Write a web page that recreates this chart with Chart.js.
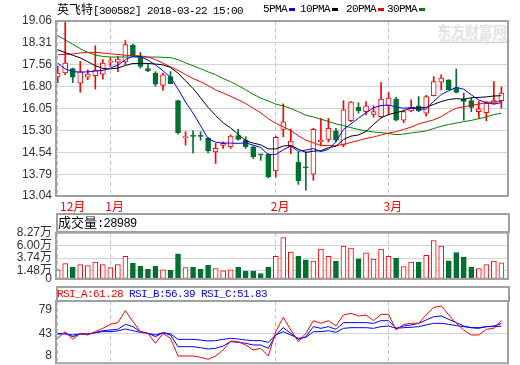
<!DOCTYPE html>
<html>
<head>
<meta charset="utf-8">
<script src="https://cdn.jsdelivr.net/npm/chart.js@4.4.1/dist/chart.umd.min.js"></script>
<style>
  body { margin: 0; background: #fff; }
  #wrap { position: relative; width: 520px; height: 365px; overflow: hidden; }
  canvas { position: absolute; left: 0; z-index: 1; }
  .t { position: absolute; white-space: nowrap; z-index: 2; line-height: 14px; color: #000; }
  .mono { font-family: "Liberation Mono", monospace; font-size: 11px; letter-spacing: -0.6px; }
  .cjk { font-family: "Noto Sans CJK SC", sans-serif; font-size: 12px; }
  .dash { display: inline-block; width: 6px; height: 3px; vertical-align: middle; margin-left: 2px; }
  .box { position: absolute; left: 56px; width: 450px; border: 2px solid #a0a0a0; z-index: 2; }
  .wm { position: absolute; z-index: 0; color: #e2e2e2; font-family: "Noto Sans CJK SC", sans-serif; white-space: nowrap; }
</style>
</head>
<body>
<div id="wrap">
  <div class="wm" style="left:437px;top:20px;font-size:14px;font-weight:bold;">东方财富网</div>
  <div class="wm" style="left:440px;top:36px;font-size:8px;font-family:'DejaVu Sans';font-weight:bold;">eastmoney.com</div>

  <div class="t" style="left:57px;top:2px;">
    <span class="cjk">英飞特</span><span class="mono">[300582] 2018-03-22 15:00</span>
  </div>
  <div class="t mono" style="left:263px;top:2px;">5PMA<span class="dash" style="background:#0000ff"></span></div>
  <div class="t mono" style="left:300px;top:2px;">10PMA<span class="dash" style="background:#000"></span></div>
  <div class="t mono" style="left:346px;top:2px;">20PMA<span class="dash" style="background:#ff0000"></span></div>
  <div class="t mono" style="left:387px;top:2px;">30PMA<span class="dash" style="background:#008000"></span></div>

  <canvas id="kline" width="520" height="214" style="top:0px"></canvas>

  <div class="box" style="top:213px;height:16px;"></div>
  <div class="t" style="left:58px;top:215px;"><span class="cjk" style="font-size:13px">成交量</span><span class="mono" style="font-size:12px">:28989</span></div>
  <canvas id="vol" width="520" height="71" style="top:220px"></canvas>

  <div class="box" style="top:286px;height:12px;"></div>
  <div class="t mono" style="left:57px;top:287px;"><span style="color:#ff0000">RSI_A:61.28</span> <span style="color:#0000ff">RSI_B:56.39</span> <span style="color:#0000ff">RSI_C:51.83</span></div>
  <canvas id="rsi" width="520" height="88" style="top:288px"></canvas>
</div>

<script>
// trading days shown (2017-12-21 .. 2018-03-22)
const dates = [
  "12-21", "12-22", "12-25", "12-26", "12-27", "12-28", "12-29",
  "01-02", "01-03", "01-04", "01-05", "01-08", "01-09", "01-10", "01-11", "01-12",
  "01-15", "01-16", "01-17", "01-18", "01-19", "01-22", "01-23", "01-24", "01-25",
  "01-26", "01-29", "01-30", "01-31",
  "02-01", "02-02", "02-05", "02-06", "02-07", "02-08", "02-09", "02-12", "02-13",
  "02-14", "02-22", "02-23", "02-26", "02-27", "02-28",
  "03-01", "03-02", "03-05", "03-06", "03-07", "03-08", "03-09", "03-12", "03-13",
  "03-14", "03-15", "03-16", "03-19", "03-20", "03-21", "03-22",
];

const open = [
  17.14, 17.27, 17.42, 16.92, 17.13, 17.18, 17.23, 17.64, 17.64, 17.65,
  18.22, 17.84, 17.42, 17.27, 16.84, 17.15, 16.32, 15.05, 15.11, 15.11,
  15.02, 14.56, 14.78, 14.73, 15.12, 14.96, 14.73, 14.48, 14.47, 13.90,
  15.33, 14.73, 14.20, 14.03, 13.79, 14.90, 14.99, 15.28, 14.79, 15.63,
  16.09, 15.94, 15.85, 15.77, 16.14, 16.37, 15.65, 15.97, 16.14, 15.89,
  16.49, 16.96, 17.04, 16.75, 16.37, 16.32, 15.94, 15.91, 16.23, 16.32,
];
const close = [
  17.27, 17.61, 17.13, 17.32, 17.23, 17.36, 17.61, 17.69, 17.75, 18.25,
  17.90, 17.50, 17.34, 16.89, 17.21, 16.90, 15.22, 15.07, 15.09, 15.09,
  14.59, 14.68, 14.85, 15.10, 14.99, 14.73, 14.39, 14.46, 13.70, 15.06,
  15.59, 14.93, 13.56, 14.01, 15.33, 14.96, 15.37, 14.96, 16.00, 16.27,
  15.97, 16.14, 15.94, 16.37, 16.41, 15.65, 15.94, 16.06, 15.97, 16.46,
  16.98, 17.10, 16.69, 16.60, 16.29, 16.09, 16.04, 16.23, 16.32, 16.58,
];
const high = [
  17.50, 19.01, 17.44, 17.67, 17.38, 18.21, 17.73, 17.79, 17.84, 18.39,
  18.27, 17.98, 17.56, 17.32, 17.27, 17.32, 16.34, 15.25, 15.28, 15.25,
  15.06, 14.85, 14.90, 15.14, 15.34, 15.08, 14.76, 14.48, 14.50, 15.10,
  16.21, 15.34, 14.56, 14.56, 15.37, 15.71, 15.71, 15.37, 16.32, 16.29,
  16.25, 16.29, 16.14, 16.94, 16.60, 16.43, 16.00, 16.35, 16.46, 16.50,
  17.15, 17.21, 17.04, 17.41, 16.58, 16.41, 16.29, 16.29, 16.98, 16.79,
];
const low = [
  16.94, 17.21, 16.94, 16.61, 17.04, 16.72, 17.06, 17.50, 17.32, 17.56,
  17.84, 17.44, 17.32, 16.81, 16.67, 16.90, 15.17, 14.79, 14.52, 14.96,
  14.52, 14.16, 14.68, 14.68, 14.96, 14.68, 14.33, 14.27, 13.66, 13.69,
  15.08, 14.50, 13.44, 13.24, 13.58, 14.79, 14.90, 14.90, 14.73, 15.60,
  15.89, 15.83, 15.75, 15.75, 15.83, 15.62, 15.56, 15.94, 15.94, 15.79,
  16.48, 16.69, 16.69, 16.58, 15.65, 15.94, 15.71, 15.63, 16.21, 16.06,
];

const ma5 = [
  17.61, 17.41, 17.32, 17.30, 17.31, 17.34, 17.36, 17.44, 17.54, 17.73,
  17.85, 17.83, 17.72, 17.55, 17.35, 17.12, 16.72, 16.27, 15.89, 15.46,
  15.01, 14.89, 14.86, 14.86, 14.85, 14.87, 14.79, 14.71, 14.46, 14.47,
  14.63, 14.76, 14.58, 14.62, 14.67, 14.57, 14.64, 14.91, 15.33, 15.52,
  15.72, 15.90, 16.08, 16.15, 16.17, 16.10, 16.06, 16.08, 16.02, 16.03,
  16.30, 16.53, 16.66, 16.78, 16.71, 16.52, 16.34, 16.25, 16.20, 16.25,
];
const ma10 = [
  18.07, 17.97, 17.88, 17.79, 17.66, 17.52, 17.43, 17.41, 17.44, 17.53,
  17.60, 17.60, 17.60, 17.58, 17.55, 17.46, 17.27, 17.00, 16.74, 16.42,
  16.09, 15.81, 15.56, 15.38, 15.16, 14.94, 14.86, 14.80, 14.66, 14.66,
  14.76, 14.78, 14.65, 14.54, 14.58, 14.60, 14.70, 14.75, 14.98, 15.10,
  15.14, 15.26, 15.50, 15.73, 15.84, 15.91, 15.97, 16.08, 16.07, 16.09,
  16.19, 16.29, 16.36, 16.39, 16.37, 16.42, 16.43, 16.45, 16.48, 16.49,
];
const ma20 = [
  17.90, 17.91, 17.93, 17.96, 17.98, 17.98, 17.96, 17.93, 17.91, 17.88,
  17.87, 17.86, 17.82, 17.73, 17.61, 17.48, 17.36, 17.22, 17.08, 16.97,
  16.84, 16.69, 16.58, 16.47, 16.35, 16.22, 16.06, 15.90, 15.70, 15.54,
  15.42, 15.29, 15.11, 14.96, 14.87, 14.77, 14.78, 14.77, 14.82, 14.88,
  14.95, 15.02, 15.07, 15.14, 15.21, 15.25, 15.33, 15.41, 15.52, 15.59,
  15.66, 15.77, 15.93, 16.06, 16.11, 16.16, 16.20, 16.26, 16.28, 16.29,
];
const ma30 = [
  18.56, 18.41, 18.26, 18.11, 17.98, 17.89, 17.84, 17.82, 17.82, 17.82,
  17.82, 17.82, 17.82, 17.82, 17.81, 17.80, 17.73, 17.62, 17.52, 17.42,
  17.31, 17.21, 17.08, 16.97, 16.84, 16.69, 16.54, 16.41, 16.31, 16.20,
  16.14, 16.05, 15.94, 15.82, 15.76, 15.68, 15.61, 15.52, 15.46, 15.39,
  15.33, 15.28, 15.24, 15.22, 15.19, 15.15, 15.17, 15.21, 15.24, 15.28,
  15.36, 15.44, 15.50, 15.55, 15.60, 15.64, 15.70, 15.76, 15.84, 15.89,
];

// volume, in 万 (10k) shares
const volume = [
  1.66, 2.77, 2.08, 2.58, 2.40, 3.01, 2.58, 2.03, 2.58, 4.06,
  2.82, 2.27, 1.72, 2.27, 1.66, 1.53, 4.48, 2.03, 2.08, 1.72,
  2.45, 1.85, 1.48, 1.66, 2.08, 1.40, 1.40, 0.98, 2.08, 4.06,
  7.38, 4.80, 4.11, 3.43, 3.19, 5.35, 4.06, 3.19, 5.90, 5.54,
  3.62, 4.67, 3.56, 5.35, 4.06, 3.75, 2.21, 3.01, 3.01, 4.24,
  6.88, 5.90, 3.25, 4.72, 3.93, 2.08, 1.85, 2.58, 3.19, 2.90,
];

const rsiA = [
  35.3, 45.6, 33.7, 43.0, 40.4, 45.6, 50.7, 56.9, 59.5, 78.0,
  61.0, 45.6, 43.0, 27.6, 43.0, 35.3, 8.0, 8.0, 8.0, 6.0,
  2.9, 8.0, 17.3, 31.2, 30.1, 25.0, 17.3, 19.8, 8.0, 45.6,
  67.7, 48.1, 30.1, 43.0, 62.5, 58.4, 62.5, 54.3, 71.3, 73.9,
  69.7, 71.3, 62.5, 72.3, 72.3, 48.1, 56.9, 58.4, 58.4, 71.3,
  83.1, 85.2, 71.3, 58.4, 48.1, 40.4, 40.4, 49.2, 50.7, 63.0,
];
const rsiB = [
  41.5, 43.0, 37.8, 42.0, 41.5, 44.0, 47.1, 48.1, 49.2, 56.9,
  53.3, 45.6, 43.0, 37.8, 44.0, 40.4, 22.4, 22.4, 22.4, 20.9,
  18.8, 19.8, 23.4, 30.1, 29.1, 27.6, 25.0, 25.0, 19.8, 40.4,
  51.7, 43.0, 33.7, 37.8, 53.3, 50.7, 53.3, 49.2, 59.5, 59.5,
  59.5, 59.5, 58.4, 62.5, 62.5, 50.7, 54.3, 55.9, 58.4, 63.6,
  68.7, 69.7, 64.6, 59.5, 54.3, 51.7, 50.7, 53.3, 54.3, 58.0,
];
const rsiC = [
  43.0, 42.0, 40.4, 42.0, 42.0, 44.0, 45.6, 45.6, 46.6, 49.7,
  47.1, 44.5, 43.0, 40.4, 44.0, 42.0, 33.7, 33.7, 33.7, 32.7,
  31.2, 31.7, 33.7, 35.3, 34.2, 32.7, 31.7, 31.7, 29.1, 40.4,
  45.6, 40.4, 35.3, 36.8, 45.6, 45.6, 47.1, 44.5, 50.7, 51.7,
  51.7, 51.7, 50.7, 53.3, 54.3, 50.7, 51.7, 52.3, 53.3, 55.9,
  58.4, 58.4, 56.9, 54.8, 53.3, 51.7, 51.7, 53.3, 53.3, 54.0,
];

const priceTicks = [13.04, 13.79, 14.54, 15.30, 16.05, 16.80, 17.56, 18.31, 19.06];
const priceTickLabels = ["13.04", "13.79", "14.54", "15.30", "16.05", "16.80", "17.56", "18.31", "19.06"];
const volTicks = [0, 1.48, 3.74, 6.00, 8.27];
const volTickLabels = ["0", "1.48万", "3.74万", "6.00万", "8.27万"];
const rsiTicks = [8, 43, 79];

const RED = "#ff0000";
const GREEN = "#00702f";
const GRID = "#d4d4d4";
const FRAME = "#a0a0a0";

// first trading day of each month -> dashed line + red month label
const monthStarts = [];
const monthLabels = [];
dates.forEach((d, i) => {
  const m = d.slice(0, 2);
  if (i === 0 || m !== dates[i - 1].slice(0, 2)) {
    monthStarts.push(i + 1);
    monthLabels.push(parseInt(m, 10) + "月");
  }
});

const isUp = (i) => close[i] >= open[i];
const pts = (arr) => arr.map((v, i) => ({ x: i + 1, y: v }));

function xAxis() {
  return {
    type: "linear",
    min: 0.774,
    max: 60.88,
    offset: false,
    afterBuildTicks: (s) => {
      s.ticks = monthStarts.map((v) => ({ value: v }));
    },
    afterFit: (s) => {
      s.height = 0;
    },
    ticks: { display: false },
    grid: { color: "#c4c4c4", drawTicks: false, offset: false },
    border: { display: false, dash: [4, 3] },
  };
}

function yAxis(min, max, tickVals, labelFn, gridColor) {
  return {
    min: min,
    max: max,
    afterBuildTicks: (s) => {
      s.ticks = tickVals.map((v) => ({ value: v }));
    },
    afterFit: (s) => {
      s.width = 56;
    },
    ticks: {
      autoSkip: false,
      padding: 4,
      color: "#333",
      font: { family: '"Liberation Sans", "Noto Sans CJK SC"', size: 12 },
      callback: labelFn,
    },
    grid: { color: gridColor, drawTicks: false },
    border: { display: false },
  };
}

const framePlugin = {
  id: "frame",
  afterDraw(chart) {
    const { ctx, chartArea: a } = chart;
    ctx.save();
    ctx.strokeStyle = FRAME;
    ctx.lineWidth = 2;
    ctx.strokeRect(a.left, a.top, a.right - a.left, a.bottom - a.top);
    ctx.restore();
  },
};

const monthLabelPlugin = {
  id: "monthLabels",
  afterDraw(chart) {
    const { ctx, chartArea, scales } = chart;
    ctx.save();
    ctx.fillStyle = RED;
    ctx.font = '12px "Noto Sans CJK SC"';
    ctx.textBaseline = "middle";
    monthStarts.forEach((m, k) => {
      const px = Math.max(scales.x.getPixelForValue(m) - 5, chartArea.left + 4);
      ctx.fillText(monthLabels[k], px, chartArea.bottom + 10);
    });
    ctx.restore();
  },
};

const maLine = (label, arr, color) => ({
  type: "line",
  label: label,
  data: pts(arr),
  borderColor: color,
  borderWidth: 1,
  pointRadius: 0,
  tension: 0,
  order: 0,
});

const baseOptions = (padding) => ({
  responsive: false,
  animation: false,
  events: [],
  layout: { padding: padding },
  plugins: { legend: { display: false }, tooltip: { enabled: false } },
});

// K-line panel
new Chart(document.getElementById("kline"), {
  type: "bar",
  data: {
    datasets: [
      maLine("MA5", ma5, "#0000ff"),
      maLine("MA10", ma10, "#000000"),
      maLine("MA20", ma20, RED),
      maLine("MA30", ma30, "#008000"),
      {
        label: "body",
        data: dates.map((d, i) => ({ x: i + 1, y: [open[i], close[i]] })),
        barThickness: 5,
        borderWidth: 1,
        borderSkipped: false,
        minBarLength: 1,
        grouped: false,
        backgroundColor: (c) => (isUp(c.dataIndex) ? "#ffffff" : GREEN),
        borderColor: (c) => (isUp(c.dataIndex) ? RED : GREEN),
        order: 1,
      },
      {
        label: "wick",
        data: dates.map((d, i) => ({ x: i + 1, y: [low[i], high[i]] })),
        barThickness: 1,
        borderWidth: 0,
        grouped: false,
        backgroundColor: (c) => (isUp(c.dataIndex) ? RED : GREEN),
        order: 2,
      },
    ],
  },
  options: {
    ...baseOptions({ top: 21, right: 12, bottom: 18, left: 0 }),
    scales: {
      x: xAxis(),
      y: yAxis(13.04, 19.06, priceTicks, (v, i) => priceTickLabels[i], GRID),
    },
  },
  plugins: [framePlugin, monthLabelPlugin],
});

// volume panel
new Chart(document.getElementById("vol"), {
  type: "bar",
  data: {
    datasets: [
      {
        label: "成交量",
        data: dates.map((d, i) => ({ x: i + 1, y: volume[i] })),
        barThickness: 5,
        borderWidth: 1,
        borderSkipped: false,
        grouped: false,
        backgroundColor: (c) => (isUp(c.dataIndex) ? "#ffffff" : GREEN),
        borderColor: (c) => (isUp(c.dataIndex) ? RED : GREEN),
      },
    ],
  },
  options: {
    ...baseOptions({ top: 12.7, right: 12, bottom: 12, left: 0 }),
    scales: {
      x: xAxis(),
      y: yAxis(0, 8.27, volTicks, (v, i) => volTickLabels[i], GRID),
    },
  },
  plugins: [framePlugin],
});

// RSI panel
new Chart(document.getElementById("rsi"), {
  type: "line",
  data: {
    datasets: [
      maLine("RSI_A", rsiA, RED),
      maLine("RSI_B", rsiB, "#0000ff"),
      maLine("RSI_C", rsiC, "#0000ff"),
    ],
  },
  options: {
    ...baseOptions({ top: 13, right: 12, bottom: 12.7, left: 0 }),
    scales: {
      x: xAxis(),
      y: yAxis(-3.3, 92.9, rsiTicks, (v) => String(v), (c) =>
        c.tick && c.tick.value === 43 ? GRID : "rgba(0,0,0,0)"
      ),
    },
  },
  plugins: [framePlugin],
});
</script>
</body>
</html>
